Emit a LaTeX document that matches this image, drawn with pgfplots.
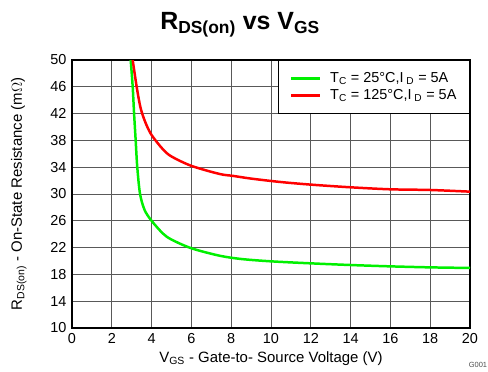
\documentclass[border=0pt]{standalone}
\usepackage{pgfplots}
\pgfplotsset{compat=1.18}
\usepackage{fontspec}
\setmainfont{Liberation Sans}
\definecolor{grn}{RGB}{0,240,0}
\definecolor{rd}{RGB}{255,0,0}
\begin{document}
\begin{tikzpicture}[x=1bp,y=1bp]
\useasboundingbox (-72bp,-44bp) rectangle (416bp,328bp);
\begin{axis}[
  at={(0,0)}, anchor=south west,
  scale only axis, width=398bp, height=268bp,
  xmin=0, xmax=20, ymin=10, ymax=50,
  xtick={0,2,...,20}, ytick={10,14,...,50},
  grid=major,
  major grid style={draw=black!65, line width=0.8pt},
  axis line style={line width=1.6pt},
  tick style={draw=none},
  ticklabel style={font=\fontsize{14.5}{16}\selectfont},
  xticklabel style={yshift=-2bp},
  yticklabel style={xshift=-2bp},
  /pgf/number format/assume math mode=true,
  xlabel={V\textsubscript{GS} - Gate-to- Source Voltage (V)},
  ylabel={R\textsubscript{DS(on)} - On-State Resistance (m$\Omega$)},
  label style={font=\fontsize{15}{17}\selectfont},
  xlabel style={yshift=-1bp},
  ylabel style={yshift=17bp},
  title={\textbf{R\textsubscript{DS(on)} vs V\textsubscript{GS}}},
  title style={font=\fontsize{25}{28}\selectfont, yshift=13bp, xshift=-31bp},
  legend style={at={(1,1)}, anchor=north east, draw=black, line width=1.2pt,
    font=\fontsize{14.5}{16}\selectfont, inner xsep=11bp, inner ysep=10bp,
    row sep=1.5pt, column sep=7bp},
  legend cell align=left,
  legend image code/.code={\draw[#1, line width=2.5pt] (0bp,0bp) -- (29bp,0bp);},
]
\addplot[grn, line width=2.5pt, smooth] coordinates {
(2.95,50) (3.05,46) (3.12,42) (3.2,38) (3.28,34) (3.42,30) (3.65,27.6) (4,26) (4.57,24.1) (5,23.2) (6,21.9) (7.4,20.8) (8.5,20.3) (10,19.95) (12,19.65) (14,19.4) (16,19.2) (18,19.05) (20,18.96)};
\addlegendentry{T\textsubscript{C} = 25°C,I\textsubscript{ D} = 5A}
\addplot[rd, line width=2.5pt, smooth] coordinates {
(3.05,50) (3.25,46) (3.45,42.8) (3.7,40.6) (4,38.8) (4.56,36.7) (5,35.6) (6,34.2) (7.4,33.0) (8.1,32.7) (9,32.3) (10.45,31.8) (12,31.4) (14,31.0) (16,30.7) (18,30.6) (20,30.35)};
\addlegendentry{T\textsubscript{C} = 125°C,I\textsubscript{ D} = 5A}
\end{axis}
\node[font=\fontsize{7.5}{8}\selectfont, text=black!70] at (406bp,-37bp) {G001};
\end{tikzpicture}
\end{document}
